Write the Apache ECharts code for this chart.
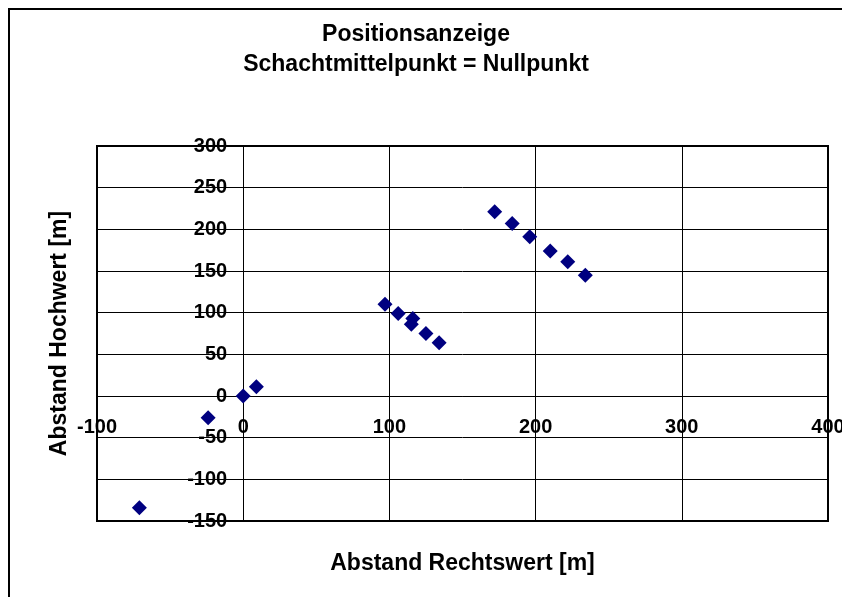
<!DOCTYPE html>
<html>
<head>
<meta charset="utf-8">
<script src="https://cdn.jsdelivr.net/npm/echarts@6/dist/echarts.min.js"></script>
<style>
  html, body { margin: 0; padding: 0; background: #fff; }
  #chart { width: 842px; height: 597px; }
</style>
</head>
<body>
<div id="chart"></div>
<script>
// Rechtswert / Hochwert relative to shaft centre (m)
var rechtswert = [-71, -24, 0, 9, 97, 106, 116, 115, 125, 134, 172, 184, 196, 210, 222, 234];
var hochwert   = [-134, -26, 0, 11, 110, 99, 93, 86, 75, 64, 221, 207, 191, 174, 161, 145];

var points = rechtswert.map(function (x, i) {
    return [x, hochwert[i]];
});

var font = "'Liberation Sans', Arial, sans-serif";

// plot box
var gLeft = 97, gTop = 146, gRight = 14, gBottom = 76;
var gW = 842 - gLeft - gRight, gH = 597 - gTop - gBottom;
var xMin = -100, xMax = 400, yMin = -150, yMax = 300;
// axes cross at the origin, like the Excel original
var yAxisShift = -gW * (0 - xMin) / (xMax - xMin);
var xAxisShift = -gH * (0 - yMin) / (yMax - yMin);

var chart = echarts.init(document.getElementById('chart'));
var options = {
    animation: false,
    backgroundColor: '#fff',
    title: {
        text: 'Positionsanzeige\nSchachtmittelpunkt = Nullpunkt',
        left: 411,
        textAlign: 'center',
        top: 15,
        textStyle: {
            fontFamily: font,
            fontSize: 23,
            fontWeight: 'bold',
            color: '#000',
            lineHeight: 30
        }
    },
    graphic: [{
        type: 'rect',
        shape: { x: 9, y: 9, width: 900, height: 700 },
        style: { fill: 'none', stroke: '#000', lineWidth: 2 },
        silent: true
    }],
    grid: {
        left: gLeft,
        top: gTop,
        right: gRight,
        bottom: gBottom,
        outerBoundsMode: 'none',
        containLabel: false,
        show: true,
        borderColor: '#000',
        borderWidth: 2
    },
    xAxis: {
        type: 'value',
        min: xMin,
        max: xMax,
        interval: 100,
        position: 'bottom',
        offset: xAxisShift,
        name: 'Abstand Rechtswert [m]',
        nameLocation: 'middle',
        nameGap: 156,
        nameTextStyle: { fontFamily: font, fontSize: 23, fontWeight: 'bold', color: '#000' },
        axisLine: { onZero: false, lineStyle: { color: '#000', width: 1 } },
        axisTick: { show: true, length: 5, lineStyle: { color: '#000' } },
        axisLabel: { margin: 21, fontFamily: font, fontSize: 20, fontWeight: 'bold', color: '#000' },
        splitLine: { lineStyle: { color: '#000', width: 1 } }
    },
    yAxis: {
        type: 'value',
        min: yMin,
        max: yMax,
        interval: 50,
        position: 'left',
        offset: yAxisShift,
        name: 'Abstand Hochwert [m]',
        nameLocation: 'middle',
        nameGap: 172,
        nameTextStyle: { fontFamily: font, fontSize: 23, fontWeight: 'bold', color: '#000' },
        axisLine: { onZero: false, lineStyle: { color: '#000', width: 1 } },
        axisTick: { show: true, length: 5, lineStyle: { color: '#000' } },
        axisLabel: { margin: 16, fontFamily: font, fontSize: 20, fontWeight: 'bold', color: '#000' },
        splitLine: { lineStyle: { color: '#000', width: 1 } }
    },
    series: [{
        type: 'scatter',
        data: points,
        symbol: 'diamond',
        symbolSize: 15,
        itemStyle: { color: '#000080', opacity: 1 }
    }]
};
chart.setOption(options);
</script>
</body>
</html>
